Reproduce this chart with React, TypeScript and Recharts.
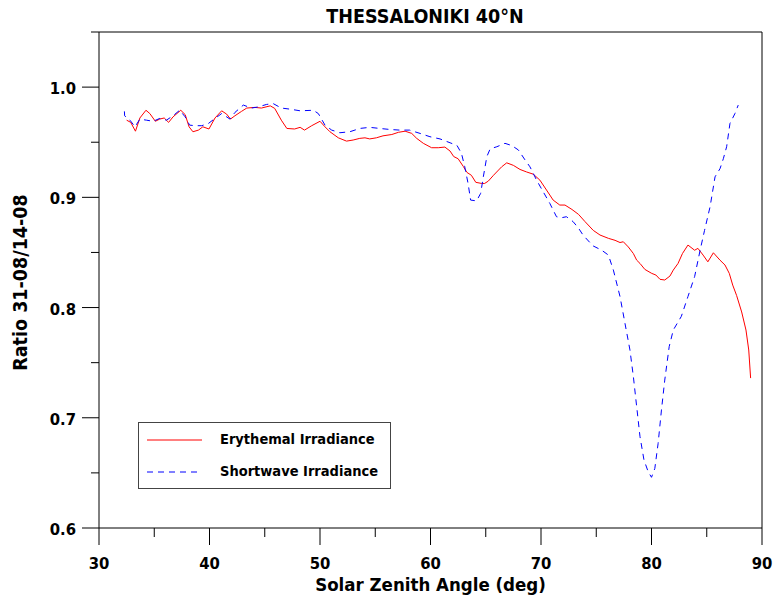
import { LineChart, Line, XAxis, YAxis, Legend, ReferenceLine } from 'recharts';

// solar zenith angle (deg) and ratio 31-08 / 14-08
const erythemalSza = [
  32.5, 32.87, 33.3, 33.7, 34.25, 34.6, 35.1, 35.5, 35.9, 36.3, 36.7, 37.4, 37.8, 38.15, 38.5, 39.0,
  39.4, 39.95, 40.5, 41.1, 41.55, 41.9, 42.3, 42.9, 43.37, 44.1, 44.7, 45.5, 45.9, 46.5, 47.0, 47.7,
  48.2, 48.6, 49.25, 50.0, 50.45, 50.9, 51.66, 52.4, 53.0, 53.6, 54.07, 54.5, 55.1, 55.7, 56.5, 57.1,
  57.7, 58.3, 58.75, 59.35, 60.1, 60.7, 61.3, 61.77, 62.1, 62.5, 62.97, 63.3, 63.7, 64.1, 64.63, 64.9,
  65.23, 65.7, 66.44, 66.9, 67.5, 68.1, 68.7, 69.3, 69.9, 70.5, 71.1, 71.7, 72.17, 72.8, 73.4, 73.98,
  74.73, 75.34, 76.1, 76.7, 77.15, 77.45, 77.9, 78.36, 78.66, 78.96, 79.4, 80.02, 80.4, 80.77, 81.2,
  81.67, 81.97, 82.4, 82.8, 83.3, 83.9, 84.2, 84.67, 85.1, 85.6, 86.2, 86.65, 87.04, 87.35, 87.7,
  88.16, 88.55, 88.8, 88.97,
];
const erythemalRatio = [
  0.97, 0.968, 0.96, 0.972, 0.979, 0.976, 0.969, 0.971, 0.972, 0.968, 0.973, 0.979, 0.975, 0.964, 0.9595, 0.961,
  0.964, 0.962, 0.972, 0.9785, 0.9755, 0.971, 0.974, 0.978, 0.981, 0.9816, 0.981, 0.983, 0.9807, 0.97, 0.9625, 0.962,
  0.9635, 0.961, 0.965, 0.969, 0.964, 0.9595, 0.954, 0.951, 0.952, 0.9535, 0.954, 0.953, 0.954, 0.9558, 0.957, 0.959,
  0.96, 0.958, 0.9535, 0.949, 0.945, 0.945, 0.9456, 0.942, 0.937, 0.935, 0.928, 0.9226, 0.92, 0.9136, 0.9126, 0.9126,
  0.9147, 0.92, 0.9277, 0.9313, 0.929, 0.9253, 0.923, 0.921, 0.9156, 0.9066, 0.8975, 0.893, 0.893, 0.889, 0.8845, 0.878,
  0.87, 0.8658, 0.8628, 0.861, 0.859, 0.8597, 0.855, 0.849, 0.843, 0.84, 0.8346, 0.831, 0.8295, 0.8256, 0.825,
  0.8286, 0.834, 0.84, 0.849, 0.8567, 0.852, 0.8537, 0.8476, 0.8415, 0.8497, 0.843, 0.8386, 0.831, 0.8204, 0.811,
  0.796, 0.7796, 0.7615, 0.736,
];

const shortwaveSza = [
  32.3, 32.32, 32.8, 33.26, 33.7, 34.3, 34.9, 35.5, 36.1, 36.7, 37.3, 37.8, 38.2, 38.7, 39.3, 39.9,
  40.5, 41.1, 41.85, 42.3, 43.06, 43.8, 44.4, 45.17, 45.77, 46.5, 47.3, 48.2, 49.4, 49.85, 50.45, 51.06,
  51.8, 52.7, 53.6, 54.5, 55.4, 56.3, 57.2, 58.1, 59.05, 59.95, 60.86, 61.77, 62.4, 62.8, 63.1, 63.4,
  63.63, 64.17, 64.54, 64.78, 65.1, 65.4, 66.0, 66.74, 67.35, 67.95, 68.55, 69.0, 69.6, 70.2, 70.8, 71.4,
  71.87, 72.3, 72.9, 73.4, 73.8, 74.7, 75.5, 76.1, 76.55, 77.15, 77.6, 78.05, 78.36, 78.66, 78.96, 79.32,
  79.7, 80.0, 80.3, 80.6, 80.9, 81.2, 81.6, 81.97, 82.7, 83.3, 83.9, 84.4, 84.8, 85.3, 85.75, 86.2,
  86.5, 86.8, 87.1, 87.55, 87.85,
];
const shortwaveRatio = [
  0.978, 0.974, 0.97, 0.964, 0.971, 0.97, 0.969, 0.9716, 0.97, 0.974, 0.979, 0.973, 0.9655, 0.965, 0.965, 0.967,
  0.9716, 0.976, 0.971, 0.977, 0.9837, 0.981, 0.982, 0.9843, 0.985, 0.981, 0.98, 0.9785, 0.979, 0.976, 0.9655, 0.961,
  0.9586, 0.9595, 0.9625, 0.9635, 0.9625, 0.9616, 0.961, 0.961, 0.958, 0.955, 0.953, 0.9495, 0.947, 0.94, 0.9277, 0.9126,
  0.8975, 0.8968, 0.9036, 0.9186, 0.937, 0.944, 0.9459, 0.949, 0.947, 0.943, 0.934, 0.9277, 0.9156, 0.905, 0.8945, 0.8824,
  0.8815, 0.8824, 0.878, 0.872, 0.8658, 0.856, 0.852, 0.8476, 0.834, 0.81, 0.7857, 0.7615, 0.7372, 0.71, 0.6828, 0.6617,
  0.651, 0.646, 0.654, 0.6768, 0.707, 0.7342, 0.7645, 0.7796, 0.792, 0.81, 0.828, 0.852, 0.87, 0.8914, 0.9186, 0.926,
  0.935, 0.9459, 0.967, 0.976, 0.9837,
];

const xTicks = [30, 35, 40, 45, 50, 55, 60, 65, 70, 75, 80, 85, 90];
const yTicks = [0.6, 0.65, 0.7, 0.75, 0.8, 0.85, 0.9, 0.95, 1.0, 1.05];

const erythemal = erythemalSza.map((sza, i) => ({ sza, ratio: erythemalRatio[i] }));
const shortwave = shortwaveSza.map((sza, i) => ({ sza, ratio: shortwaveRatio[i] }));

const FONT = "Tahoma, 'DejaVu Sans Condensed', 'DejaVu Sans', sans-serif";

// tick line + label drawn together so minor ticks can be shorter
const XTick = (props: any) => {
  const { x, y, payload } = props;
  const major = payload.value % 10 === 0;
  return (
    <g>
      <line x1={x} y1={y} x2={x} y2={y + (major ? 17 : 9)} stroke="#000" />
      {major && (
        <text x={x} y={y + 41} textAnchor="middle" fontFamily={FONT} fontWeight="bold" fontSize={16.5} fill="#000">
          {payload.value}
        </text>
      )}
    </g>
  );
};

const YTick = (props: any) => {
  const { x, y, payload } = props;
  const major = Math.round(payload.value * 100) % 10 === 0;
  return (
    <g>
      <line x1={x} y1={y} x2={x - (major ? 17 : 8)} y2={y} stroke="#000" />
      {major && (
        <text x={x - 23} y={y + 7} textAnchor="end" fontFamily={FONT} fontWeight="bold" fontSize={16.5} fill="#000">
          {payload.value.toFixed(1)}
        </text>
      )}
    </g>
  );
};

const renderLegend = () => (
  <div
    style={{
      width: 251,
      height: 65,
      border: '1px solid #444',
      background: '#fff',
      position: 'relative',
      fontFamily: FONT,
      fontWeight: 'bold',
      fontSize: 14.5,
    }}
  >
    <svg width={70} height={65} style={{ position: 'absolute', left: 0, top: 0 }}>
      <line x1={8} y1={17} x2={63} y2={17} stroke="#ff0000" />
      <line x1={8} y1={49} x2={63} y2={49} stroke="#0000ff" strokeDasharray="6 5" />
    </svg>
    <div style={{ position: 'absolute', left: 81, top: 8 }}>Erythemal Irradiance</div>
    <div style={{ position: 'absolute', left: 81, top: 40 }}>Shortwave Irradiance</div>
  </div>
);

export default function App() {
  return (
    <div style={{ position: 'absolute', left: 0, top: 0, width: 773, height: 599, background: '#fff' }}>
      <div
        style={{
          position: 'absolute', left: 0, width: 850, top: 5, textAlign: 'center',
          fontFamily: FONT, fontWeight: 'bold', fontSize: 19.5,
        }}
      >
        THESSALONIKI 40°N
      </div>
      <div
        style={{
          position: 'absolute', left: 99, width: 663, top: 574, textAlign: 'center',
          fontFamily: FONT, fontWeight: 'bold', fontSize: 18.5,
        }}
      >
        Solar Zenith Angle (deg)
      </div>
      <div
        style={{
          position: 'absolute', left: 20, top: 283, width: 300, marginLeft: -150, marginTop: -12,
          textAlign: 'center', transform: 'rotate(-90deg)',
          fontFamily: FONT, fontWeight: 'bold', fontSize: 19.5,
        }}
      >
        Ratio 31-08/14-08
      </div>
      <LineChart width={773} height={599} margin={{ top: 32, right: 11, bottom: 21, left: 39 }}>
        <XAxis
          dataKey="sza"
          type="number"
          domain={[30, 90]}
          ticks={xTicks}
          interval={0}
          height={50}
          tickSize={0}
          tickMargin={0}
          tickLine={false}
          tick={<XTick />}
          axisLine={{ stroke: '#000' }}
        />
        <YAxis
          type="number"
          domain={[0.6, 1.05]}
          ticks={yTicks}
          interval={0}
          width={60}
          tickSize={0}
          tickMargin={0}
          tickLine={false}
          tick={<YTick />}
          axisLine={{ stroke: '#000' }}
        />
        {/* frame: top and right edges */}
        <ReferenceLine y={1.05} stroke="#000" />
        <ReferenceLine x={90} stroke="#000" />
        <Legend
          layout="horizontal"
          verticalAlign="middle"
          align="center"
          content={renderLegend}
          wrapperStyle={{ left: 138, top: 422, width: 253 }}
        />
        <Line
          data={erythemal}
          dataKey="ratio"
          name="Erythemal Irradiance"
          type="linear"
          stroke="#ff0000"
          strokeWidth={1}
          dot={false}
          isAnimationActive={false}
        />
        <Line
          data={shortwave}
          dataKey="ratio"
          name="Shortwave Irradiance"
          type="linear"
          stroke="#0000ff"
          strokeWidth={1}
          strokeDasharray="6 5"
          dot={false}
          isAnimationActive={false}
        />
      </LineChart>
    </div>
  );
}
